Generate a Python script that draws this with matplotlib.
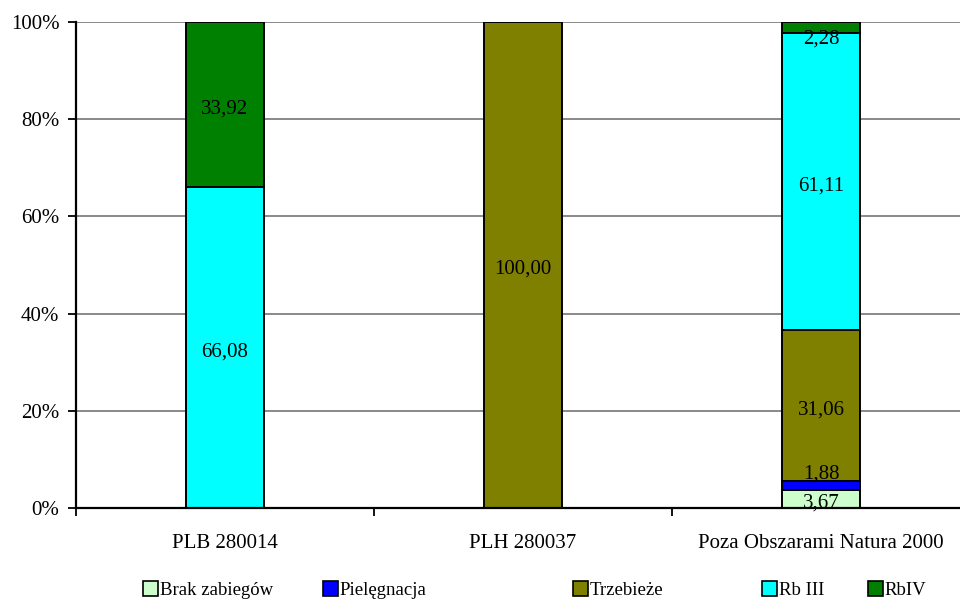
import matplotlib.pyplot as plt
import numpy as np
from matplotlib.patches import Patch
from matplotlib.ticker import FuncFormatter

plt.rcParams["font.family"] = ["Liberation Serif", "DejaVu Serif"]

categories = ["PLB 280014", "PLH 280037", "Poza Obszarami Natura 2000"]
series = ["Brak zabiegów", "Pielęgnacja", "Trzebieże", "Rb III", "RbIV"]
brak = [0.0, 0.0, 3.67]
pielegnacja = [0.0, 0.0, 1.88]
trzebieze = [0.0, 100.00, 31.06]
rb3 = [66.08, 0.0, 61.11]
rb4 = [33.92, 0.0, 2.28]

colors = ["#CCFFCC", "#0000FF", "#808000", "#00FFFF", "#008000"]
legend_x = [143, 323, 573, 762, 868]

values = np.array([brak, pielegnacja, trzebieze, rb3, rb4])

fig = plt.figure(figsize=(9.6, 6.01), dpi=100)
ax = fig.add_axes([76 / 960, 1 - 508 / 601, 894 / 960, 486 / 601])

x = np.arange(len(categories))
bottom = np.zeros(len(categories))
for i, name in enumerate(series):
    vals = values[i]
    ax.bar(x, vals, width=0.26, bottom=bottom, color=colors[i],
           edgecolor="black", linewidth=1.4, zorder=3)
    for j, v in enumerate(vals):
        if v <= 0:
            continue
        dy = -3
        # small segments: move the label off the thin slice
        if v < 3:
            dy = -8 if i == len(series) - 1 else 8
        ax.annotate(f"{v:.2f}".replace(".", ","),
                    (x[j], bottom[j] + v / 2), xytext=(0, dy),
                    textcoords="offset points", ha="center", va="center",
                    fontsize=15, zorder=4)
    bottom += vals

ax.set_xlim(-0.5, 2.5)
ax.set_ylim(0, 100)
ax.set_yticks(np.arange(0, 101, 20))
ax.yaxis.set_major_formatter(FuncFormatter(lambda v, p: f"{v:.0f}%"))
ax.grid(axis="y", color="#808080", linewidth=1.3, zorder=0)

ax.set_xticks(x)
ax.set_xticklabels(categories)
ax.set_xticks([-0.5, 0.5, 1.5, 2.5], minor=True)
ax.tick_params(axis="x", which="major", length=0, pad=19, labelsize=15)
ax.tick_params(axis="x", which="minor", length=6, width=1.3, direction="out")
ax.tick_params(axis="y", length=6, width=1.3, direction="out", labelsize=15,
               pad=6)

for s in ["top", "right"]:
    ax.spines[s].set_visible(False)
for s in ["left", "bottom"]:
    ax.spines[s].set_linewidth(1.6)
    ax.spines[s].set_zorder(5)

for name, c, lx in zip(series, colors, legend_x):
    fig.legend(handles=[Patch(facecolor=c, edgecolor="black", linewidth=1.2)],
               labels=[name], loc="center left",
               bbox_to_anchor=(lx / 960, 1 - 590 / 601), frameon=False,
               borderpad=0, borderaxespad=0, handlelength=0.8,
               handleheight=0.8, handletextpad=0.1, fontsize=13.5)

fig.savefig("out.png", dpi=100)
